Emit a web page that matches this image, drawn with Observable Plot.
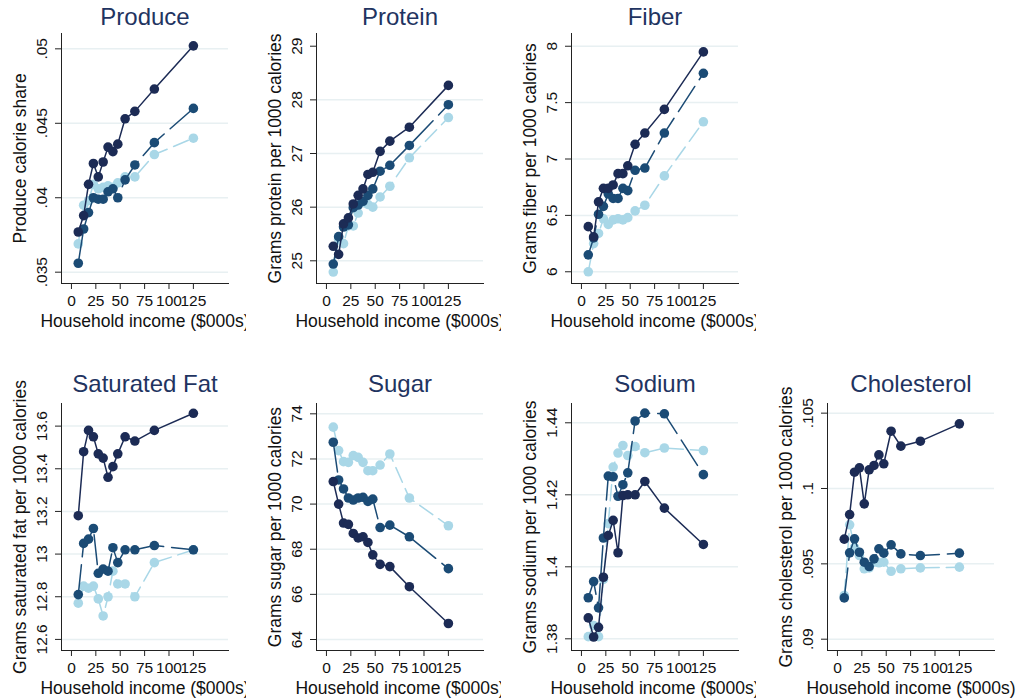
<!DOCTYPE html>
<html><head><meta charset="utf-8">
<script src="https://cdn.jsdelivr.net/npm/d3@7"></script>
<script src="https://cdn.jsdelivr.net/npm/@observablehq/plot@0.6"></script>
<style>
body{margin:0;background:#fff;}
#wrap{position:relative;width:1019px;height:700px;overflow:hidden;background:#fff;}
#wrap svg{position:absolute;}
</style></head><body><div id="wrap"></div>
<script>
// Household income bins ($000s)
const income = [7, 12.5, 17.5, 22.5, 27.5, 32.5, 37.5, 42.5, 47.5, 55, 65, 85, 125];
const xTicks = [0, 25, 50, 75, 100, 125];
const xLabel = "Household income ($000s)";

// Produce
const produceDark  = [0.0377, 0.0388, 0.0409, 0.0423, 0.0414, 0.0424, 0.0434, 0.0431, 0.0436, 0.0453, 0.0458, 0.0473, 0.0502];
const produceMid   = [0.0356, 0.0379, 0.0390, 0.0400, 0.0399, 0.0399, 0.0404, 0.0406, 0.0400, 0.0412, 0.0422, 0.0437, 0.0460];
const produceLight = [0.0369, 0.0395, 0.0398, 0.0409, 0.0406, 0.0407, 0.0408, 0.0407, 0.0410, 0.0414, 0.0414, 0.0429, 0.0440];
const produceTicks = [0.035, 0.04, 0.045, 0.05];

// Protein
const proteinDark  = [25.27, 25.12, 25.69, 25.80, 26.06, 26.22, 26.34, 26.61, 26.65, 27.04, 27.23, 27.49, 28.27];
const proteinMid   = [24.94, 25.45, 25.63, 25.67, 25.99, 26.04, 26.11, 26.22, 26.34, 26.67, 26.78, 27.15, 27.91];
const proteinLight = [24.79, 25.40, 25.32, 25.65, 25.65, 25.89, 26.09, 26.05, 26.00, 26.19, 26.39, 26.92, 27.67];
const proteinTicks = [25, 26, 27, 28, 29];
const proteinGrid  = [25, 26, 27, 28];

// Fiber
const fiberDark  = [6.40, 6.31, 6.62, 6.74, 6.74, 6.77, 6.87, 6.87, 6.94, 7.13, 7.23, 7.44, 7.95];
const fiberMid   = [6.15, 6.30, 6.51, 6.58, 6.69, 6.65, 6.65, 6.74, 6.72, 6.90, 6.92, 7.23, 7.76];
const fiberLight = [6.00, 6.25, 6.34, 6.47, 6.42, 6.46, 6.47, 6.46, 6.48, 6.54, 6.59, 6.85, 7.33];
const fiberTicks = [6, 6.5, 7, 7.5, 8];

// Saturated fat
const satfatDark  = [13.18, 13.48, 13.58, 13.55, 13.47, 13.45, 13.36, 13.41, 13.47, 13.55, 13.53, 13.58, 13.66];
const satfatMid   = [12.81, 13.05, 13.07, 13.12, 12.91, 12.93, 12.92, 13.03, 12.96, 13.02, 13.02, 13.04, 13.02];
const satfatLight = [12.77, 12.85, 12.84, 12.85, 12.79, 12.71, 12.80, 12.92, 12.86, 12.86, 12.80, 12.96, 13.02];
const satfatTicks = [12.6, 12.8, 13, 13.2, 13.4, 13.6];

// Sugar
const sugarDark  = [71.00, 70.00, 69.16, 69.10, 68.70, 68.50, 68.55, 68.30, 67.75, 67.33, 67.23, 66.34, 64.71];
const sugarMid   = [72.74, 71.07, 70.67, 70.27, 70.18, 70.27, 70.30, 70.12, 70.22, 68.96, 69.07, 68.55, 67.14];
const sugarLight = [73.41, 72.37, 71.88, 71.85, 72.15, 72.07, 71.85, 71.48, 71.48, 71.73, 72.22, 70.27, 69.04];
const sugarTicks = [64, 66, 68, 70, 72, 74];

// Sodium
const sodiumDark  = [1.3858, 1.3805, 1.3832, 1.3971, 1.4087, 1.4129, 1.4039, 1.4198, 1.4200, 1.4200, 1.4237, 1.4163, 1.4062];
const sodiumMid   = [1.3914, 1.3959, 1.3886, 1.4080, 1.4252, 1.4250, 1.4196, 1.4228, 1.4261, 1.4405, 1.4427, 1.4425, 1.4256];
const sodiumLight = [1.3806, 1.3837, 1.3806, 1.3965, 1.4120, 1.4277, 1.4316, 1.4337, 1.4309, 1.4334, 1.4317, 1.4330, 1.4323];
const sodiumTicks = [1.38, 1.4, 1.42, 1.44];

// Cholesterol
const cholDark  = [0.09664, 0.09827, 0.10108, 0.10137, 0.09898, 0.10124, 0.10153, 0.10223, 0.10164, 0.10380, 0.10281, 0.10314, 0.10429];
const cholMid   = [0.09274, 0.09573, 0.09666, 0.09577, 0.09511, 0.09482, 0.09533, 0.09600, 0.09571, 0.09626, 0.09566, 0.09555, 0.09571];
const cholLight = [0.09290, 0.09759, 0.09610, 0.09555, 0.09467, 0.09473, 0.09511, 0.09507, 0.09511, 0.09451, 0.09467, 0.09473, 0.09478];
const cholTicks = [0.09, 0.095, 0.1, 0.105];

// styling
const colors = ["#1c2b55", "#1b4b75", "#a9d7e7"];
const dashes = [undefined, "30,8", "16,7"];
const titleColor = "#1f3461";
const gridColor = "#e8f0f2";
const axisColor = "#222";
const fontFamily = "'Liberation Sans', Arial, Helvetica, sans-serif";
const xDomain = [-10.2, 161];

const panels = [
  {title: "Produce", ylabel: "Produce calorie share", series: [produceDark, produceMid, produceLight], ticks: produceTicks, grid: produceTicks, domain: [0.03424, 0.05103], row: 0, col: 0},
  {title: "Protein", ylabel: "Grams protein per 1000 calories", series: [proteinDark, proteinMid, proteinLight], ticks: proteinTicks, grid: proteinGrid, domain: [24.577, 29.237], row: 0, col: 1},
  {title: "Fiber", ylabel: "Grams fiber per 1000 calories", series: [fiberDark, fiberMid, fiberLight], ticks: fiberTicks, grid: fiberTicks, domain: [5.896, 8.113], row: 0, col: 2},
  {title: "Saturated Fat", ylabel: "Grams saturated fat per 1000 calories", series: [satfatDark, satfatMid, satfatLight], ticks: satfatTicks, grid: satfatTicks, domain: [12.548, 13.706], row: 1, col: 0},
  {title: "Sugar", ylabel: "Grams sugar per 1000 calories", series: [sugarDark, sugarMid, sugarLight], ticks: sugarTicks, grid: sugarTicks, domain: [63.513, 74.457], row: 1, col: 1},
  {title: "Sodium", ylabel: "Grams sodium per 1000 calories", series: [sodiumDark, sodiumMid, sodiumLight], ticks: sodiumTicks, grid: sodiumTicks, domain: [1.37675, 1.44536], row: 1, col: 2},
  {title: "Cholesterol", ylabel: "Grams cholesterol per 1000 calories", series: [cholDark, cholMid, cholLight], ticks: cholTicks, grid: cholTicks, domain: [0.08925, 0.10564], row: 1, col: 3}
];

const fmt = d => { const s = String(d); return s.startsWith("0.") ? s.slice(1) : s; };
const colLeft = [0, 255, 510, 766];
const wrap = document.getElementById("wrap");

for (const p of panels) {
  const marks = [Plot.ruleY(p.grid, {stroke: gridColor, strokeWidth: 1.5})];
  for (const si of [2, 1, 0]) {
    const d = income.map((x, i) => ({x, y: p.series[si][i]}));
    marks.push(Plot.line(d, {x: "x", y: "y", stroke: colors[si], strokeWidth: 1.5, strokeDasharray: dashes[si]}));
    marks.push(Plot.dot(d, {x: "x", y: "y", r: 4.8, fill: colors[si], stroke: "none"}));
  }
  marks.push(Plot.frame({anchor: "left", stroke: axisColor}));
  marks.push(Plot.frame({anchor: "bottom", stroke: axisColor}));
  marks.push(Plot.axisX({ticks: xTicks, tickSize: 6, tickPadding: 5, fontSize: 15.5, label: null, stroke: axisColor}));
  marks.push(Plot.axisY({ticks: p.ticks, tickFormat: fmt, tickRotate: -90, tickSize: 6, tickPadding: 9, fontSize: 15.5, label: null, stroke: axisColor}));
  marks.push(Plot.text([p.title], {text: d => d, frameAnchor: "top", textAnchor: "middle", lineAnchor: "bottom", dy: p.row ? -12 : -9, fontSize: 24, fill: titleColor}));
  marks.push(Plot.text([xLabel], {text: d => d, frameAnchor: "bottom", textAnchor: "middle", lineAnchor: "bottom", dy: 43, fontSize: 17.5, fill: "#111"}));
  marks.push(Plot.text([p.ylabel], {text: d => d, frameAnchor: "left", textAnchor: "middle", rotate: -90, lineAnchor: "top", dx: -48, fontSize: 17.5, fill: "#111"}));
  const width = p.col === 3 ? 253 : 246;
  const marginTop = p.row ? 38 : 33;
  const plotH = p.row ? 247 : 250;
  const svg = Plot.plot({
    width,
    height: marginTop + plotH + 50,
    marginLeft: 61,
    marginRight: width - 61 - 167,
    marginTop,
    marginBottom: 50,
    x: {domain: xDomain},
    y: {domain: p.domain},
    style: {fontFamily, fontSize: "15.5px", background: "white", color: "#111", overflow: "hidden"},
    marks
  });
  svg.style.left = colLeft[p.col] + "px";
  svg.style.top = (p.row ? 365 : 0) + "px";
  svg.style.overflow = "hidden";
  wrap.appendChild(svg);
}
</script></body></html>
